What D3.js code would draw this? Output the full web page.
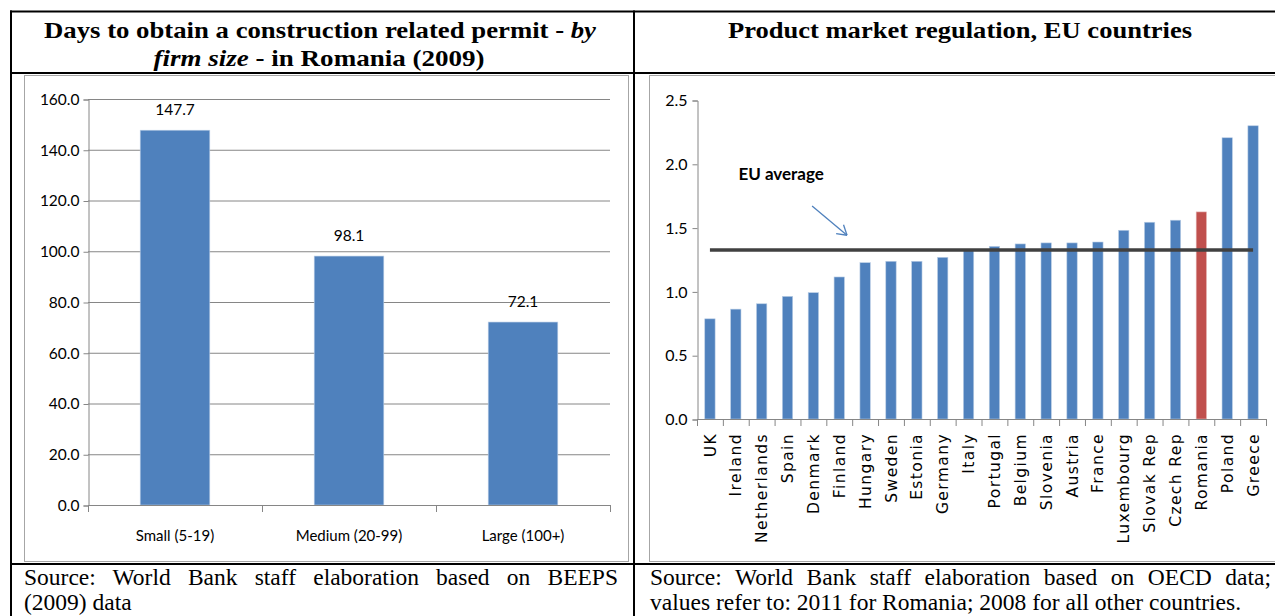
<!DOCTYPE html>
<html>
<head>
<meta charset="utf-8">
<script src="https://cdn.jsdelivr.net/npm/d3@7"></script>
<style>
  body { margin: 0; background: #fff; }
  #wrap { position: relative; width: 1275px; height: 616px; overflow: hidden; }
  .src { position: absolute; font-family: "Times New Roman", "Liberation Serif", serif;
         font-size: 23.5px; line-height: 25px; color: #000; white-space: nowrap; }
  .just { text-align: justify; text-align-last: justify; }
</style>
</head>
<body>
<div id="wrap">
  <svg id="chart" width="1275" height="616"></svg>
  <div class="src just" style="left:24px; top:565px; width:594px;">Source: World Bank staff elaboration based on BEEPS</div>
  <div class="src" style="left:24px; top:590px;">(2009) data</div>
  <div class="src just" style="left:650px; top:565px; width:621px;">Source: World Bank staff elaboration based on OECD data;</div>
  <div class="src" style="left:650px; top:590px;">values refer to: 2011 for Romania; 2008 for all other countries.</div>
</div>
<script>
// left panel data
var sizes = ["Small (5-19)", "Medium (20-99)", "Large (100+)"];
var days = [147.7, 98.1, 72.1];
var daysTicks = [0, 20, 40, 60, 80, 100, 120, 140, 160];

// right panel data
var countries = ["UK", "Ireland", "Netherlands", "Spain", "Denmark", "Finland", "Hungary",
  "Sweden", "Estonia", "Germany", "Italy", "Portugal", "Belgium", "Slovenia", "Austria",
  "France", "Luxembourg", "Slovak Rep", "Czech Rep", "Romania", "Poland", "Greece"];
var pmr = [0.785, 0.861, 0.903, 0.961, 0.99, 1.113, 1.225, 1.236, 1.236, 1.267, 1.32,
  1.353, 1.372, 1.38, 1.38, 1.387, 1.479, 1.542, 1.558, 1.623, 2.204, 2.298];
var euAverage = 1.325;
var pmrTicks = [0, 0.5, 1.0, 1.5, 2.0, 2.5];

var blue = "#4F81BD";
var red = "#C0504D";
var axisGray = "#868686";
var tickFont = "Lato, Calibri, sans-serif";

var svg = d3.select("#chart");

// table frame
var black = "#000";
function hline(x1, x2, y) {
  svg.append("line").attr("x1", x1).attr("x2", x2).attr("y1", y).attr("y2", y)
    .attr("stroke", black).attr("stroke-width", 2);
}
function vline(x, y1, y2) {
  svg.append("line").attr("x1", x).attr("x2", x).attr("y1", y1).attr("y2", y2)
    .attr("stroke", black).attr("stroke-width", 2);
}
hline(10, 1275, 11.5);
hline(10, 1275, 73);
hline(10, 1275, 564);
vline(11, 10.5, 616);
vline(634, 10.5, 616);

// chart frames
svg.append("rect").attr("x", 24.5).attr("y", 75.5).attr("width", 604).attr("height", 486)
  .attr("fill", "none").attr("stroke", "#a6a6a6");
svg.append("rect").attr("x", 649.5).attr("y", 75.5).attr("width", 640).attr("height", 486)
  .attr("fill", "none").attr("stroke", "#a6a6a6");

// headers
var serif = "'Times New Roman', 'Liberation Serif', serif";
function header(x, y, len) {
  return svg.append("text").attr("x", x).attr("y", y).attr("text-anchor", "middle")
    .attr("font-family", serif).attr("font-size", 24).attr("font-weight", "bold")
    .attr("textLength", len).attr("lengthAdjust", "spacingAndGlyphs");
}
var h1 = header(320, 38, 552);
h1.append("tspan").text("Days to obtain a construction related permit - ");
h1.append("tspan").attr("font-style", "italic").text("by");
var h2 = header(319, 66, 331);
h2.append("tspan").attr("font-style", "italic").text("firm size");
h2.append("tspan").text(" - in Romania (2009)");
header(960, 38, 464).text("Product market regulation, EU countries");

// ---- left chart ----
var xL = d3.scaleBand().domain(sizes).range([88, 610]).paddingInner(0.6).paddingOuter(0.3);
var yL = d3.scaleLinear().domain([0, 160]).range([505, 99]);

var gL = svg.append("g");
gL.selectAll("line.grid").data(daysTicks).enter().append("line")
  .attr("x1", 88).attr("x2", 610)
  .attr("y1", function(d) { return yL(d) + 0.5; })
  .attr("y2", function(d) { return yL(d) + 0.5; })
  .attr("stroke", axisGray).attr("stroke-width", 1);

var axL = gL.append("g").attr("transform", "translate(88.5,0.5)")
  .call(d3.axisLeft(yL).tickValues(daysTicks).tickSize(5).tickFormat(d3.format(".1f")));
axL.select(".domain").attr("stroke", axisGray);
axL.selectAll(".tick line").attr("stroke", axisGray);
axL.selectAll("text").attr("font-family", tickFont).attr("font-size", 15.5).attr("fill", "#000")
  .attr("dx", -1);

gL.selectAll("rect.bar").data(days).enter().append("rect")
  .attr("x", function(d, i) { return xL(sizes[i]); })
  .attr("y", function(d) { return yL(d); })
  .attr("width", xL.bandwidth())
  .attr("height", function(d) { return yL(0) - yL(d); })
  .attr("fill", blue).attr("stroke", "#b9cde5").attr("stroke-width", 0.6);

gL.selectAll("text.val").data(days).enter().append("text")
  .attr("x", function(d, i) { return xL(sizes[i]) + xL.bandwidth() / 2; })
  .attr("y", function(d) { return yL(d) - 15; })
  .attr("text-anchor", "middle").attr("font-family", tickFont).attr("font-size", 15.5)
  .text(function(d) { return d.toFixed(1); });

// x axis with tick marks between categories
var stepL = xL.step();
gL.append("line").attr("x1", 88).attr("x2", 610).attr("y1", yL(0) + 0.5).attr("y2", yL(0) + 0.5)
  .attr("stroke", axisGray);
gL.selectAll("line.xt").data(d3.range(sizes.length + 1)).enter().append("line")
  .attr("x1", function(i) { return 88.5 + i * stepL; })
  .attr("x2", function(i) { return 88.5 + i * stepL; })
  .attr("y1", yL(0)).attr("y2", yL(0) + 7).attr("stroke", axisGray);
gL.selectAll("text.cat").data(sizes).enter().append("text")
  .attr("x", function(d) { return xL(d) + xL.bandwidth() / 2; })
  .attr("y", 541).attr("text-anchor", "middle")
  .attr("font-family", tickFont).attr("font-size", 15).text(function(d) { return d; });

// ---- right chart ----
var xR = d3.scaleBand().domain(countries).range([697, 1266]).paddingInner(0.6).paddingOuter(0.3);
var yR = d3.scaleLinear().domain([0, 2.5]).range([419, 100]);
var gR = svg.append("g");

var axR = gR.append("g").attr("transform", "translate(697.5,0.5)")
  .call(d3.axisLeft(yR).tickValues(pmrTicks).tickSize(5).tickFormat(d3.format(".1f")));
axR.select(".domain").attr("stroke", axisGray);
axR.selectAll(".tick line").attr("stroke", axisGray);
axR.selectAll("text").attr("font-family", tickFont).attr("font-size", 16).attr("fill", "#000")
  .attr("dx", -2);

gR.selectAll("rect.bar").data(pmr).enter().append("rect")
  .attr("x", function(d, i) { return xR(countries[i]); })
  .attr("y", function(d) { return yR(d); })
  .attr("width", xR.bandwidth())
  .attr("height", function(d) { return yR(0) - yR(d); })
  .attr("fill", function(d, i) { return countries[i] == "Romania" ? red : blue; })
  .attr("stroke", function(d, i) { return countries[i] == "Romania" ? "#e6b9b8" : "#b9cde5"; })
  .attr("stroke-width", 0.6);

var stepR = xR.step();
gR.append("line").attr("x1", 697).attr("x2", 1266).attr("y1", yR(0) + 0.5).attr("y2", yR(0) + 0.5)
  .attr("stroke", axisGray);
gR.selectAll("line.xt").data(d3.range(countries.length + 1)).enter().append("line")
  .attr("x1", function(i) { return 697.5 + i * stepR; })
  .attr("x2", function(i) { return 697.5 + i * stepR; })
  .attr("y1", yR(0)).attr("y2", yR(0) + 7).attr("stroke", axisGray);

gR.selectAll("text.cat").data(countries).enter().append("text")
  .attr("transform", function(d) {
    return "translate(" + (xR(d) + xR.bandwidth() / 2) + "," + (yR(0) + 14) + ") rotate(-90)";
  })
  .attr("dy", "0.36em").attr("text-anchor", "end")
  .attr("font-family", "'DejaVu Sans', Verdana, sans-serif").attr("font-size", 15.5)
  .attr("letter-spacing", 1.4)
  .text(function(d) { return d; });

// EU average line across the categories
var avgLine = d3.line()
  .x(function(d) { return xR(d) + xR.bandwidth() / 2; })
  .y(function() { return yR(euAverage); });
gR.append("path").datum(countries).attr("d", avgLine)
  .attr("fill", "none").attr("stroke", "#404040").attr("stroke-width", 3.5);

// annotation
gR.append("text").attr("x", xR.range()[0] + 1.6 * stepR).attr("y", yR(1.87))
  .attr("font-family", tickFont).attr("font-size", 17).attr("font-weight", "bold")
  .text("EU average");

var ax1 = xR.range()[0] + 4.45 * stepR, ay1 = yR(1.67);
var ax2 = xR.range()[0] + 5.8 * stepR, ay2 = yR(1.44);
var ang = Math.atan2(ay2 - ay1, ax2 - ax1);
gR.append("line").attr("x1", ax1).attr("y1", ay1).attr("x2", ax2).attr("y2", ay2)
  .attr("stroke", blue).attr("stroke-width", 1.3);
[-0.55, 0.55].forEach(function(da) {
  gR.append("line").attr("x1", ax2).attr("y1", ay2)
    .attr("x2", ax2 - 11 * Math.cos(ang + da)).attr("y2", ay2 - 11 * Math.sin(ang + da))
    .attr("stroke", blue).attr("stroke-width", 1.3);
});
</script>
</body>
</html>
